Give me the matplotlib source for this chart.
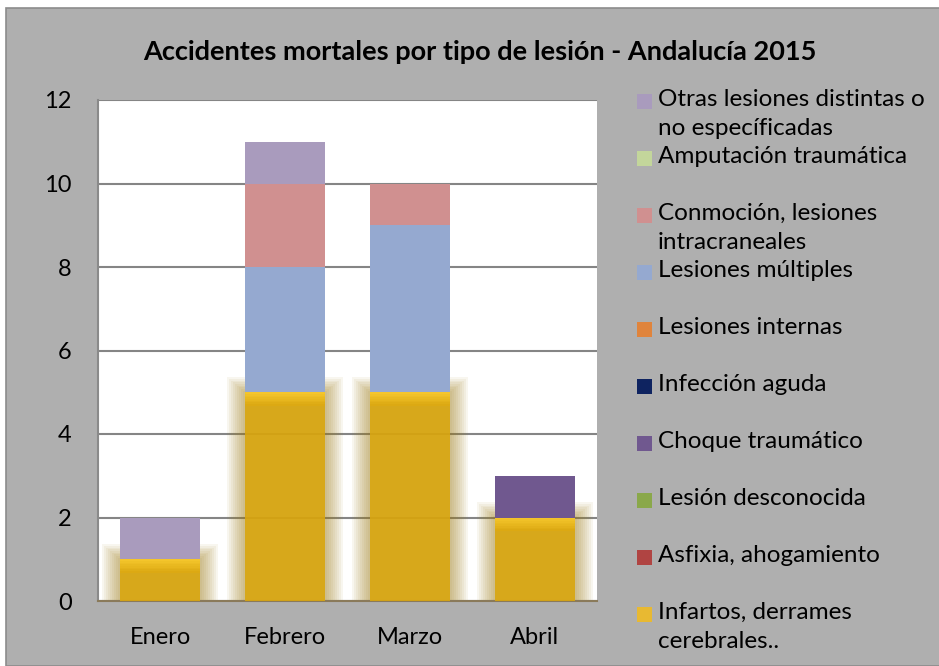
import numpy as np
import matplotlib
matplotlib.use("Agg")
from matplotlib import pyplot as plt
from matplotlib.patches import Rectangle

plt.rcParams['font.family'] = ['Lato', 'DejaVu Sans']

months = ["Enero", "Febrero", "Marzo", "Abril"]

# series from bottom of the stack to the top
series = [
    "Infartos, derrames\ncerebrales..",
    "Asfixia, ahogamiento",
    "Lesión desconocida",
    "Choque traumático",
    "Infección aguda",
    "Lesiones internas",
    "Lesiones múltiples",
    "Conmoción, lesiones\nintracraneales",
    "Amputación traumática",
    "Otras lesiones distintas o\nno específicadas",
]
infartos = [1, 5, 5, 2]
asfixia = [0, 0, 0, 0]
desconocida = [0, 0, 0, 0]
choque = [0, 0, 0, 1]
infeccion = [0, 0, 0, 0]
internas = [0, 0, 0, 0]
multiples = [0, 3, 4, 0]
conmocion = [0, 2, 1, 0]
amputacion = [0, 0, 0, 0]
otras = [1, 1, 0, 0]
values = [infartos, asfixia, desconocida, choque, infeccion,
          internas, multiples, conmocion, amputacion, otras]

colors = ["#d9a60f", "#b04442", "#8aa84a", "#70588f", "#0e2360",
          "#e0843c", "#95a9d0", "#d09090", "#c3d69b", "#a99bbd"]
legend_colors = list(colors)
legend_colors[0] = "#e8b932"

fig = plt.figure(figsize=(9.39, 6.66), dpi=100)
fig.patch.set_facecolor("white")
# gray chart area
fig.patches.append(Rectangle((6 / 939, 0), 1, 1 - 8 / 666, transform=fig.transFigure,
                             facecolor="#afafaf", edgecolor="#8c8c8c", lw=1.2, zorder=-5))

ax = fig.add_axes([98 / 939, 1 - 601 / 666, 499 / 939, 501 / 666])
ax.set_facecolor("white")

x = np.arange(len(months))
w = 0.64

# glow behind the yellow bars
for k in range(1, 10):
    ax.bar(x, np.array(infartos) + 0.04 * k, width=w + 0.032 * k, bottom=0,
           color="#9c7a10", alpha=0.065, lw=0, zorder=1)

bottom = np.zeros(len(months))
for i, vals in enumerate(values):
    vals = np.array(vals, dtype=float)
    a = 0.9 if i == 0 else 1.0
    ax.bar(x, vals, width=w, bottom=bottom, color=colors[i], alpha=a, lw=0, zorder=3)
    if i == 0:
        # lighter top band on the yellow bars
        n = 8
        for j in range(n):
            h = 0.04
            c = np.array(matplotlib.colors.to_rgb("#f6c72c")) * (1 - j / n) + \
                np.array(matplotlib.colors.to_rgb("#d9a60f")) * (j / n)
            ax.bar(x, np.where(vals > 0, h, 0), width=w, bottom=vals - (j + 1) * h,
                   color=c, alpha=0.95, lw=0, zorder=3.5)
    bottom += vals

ax.set_ylim(0, 12)
ax.set_xlim(-0.5, 3.5)
ax.set_yticks(range(0, 13, 2))
ax.set_xticks(x)
ax.set_xticklabels(months)
ax.yaxis.grid(True, color="#858585", lw=1.5, zorder=2)
ax.set_axisbelow(True)
for s in ["top", "right"]:
    ax.spines[s].set_visible(False)
ax.spines["left"].set_color("#8a8a8a")
ax.spines["left"].set_linewidth(1.5)
ax.spines["bottom"].set_color("#8a7a5a")
ax.spines["bottom"].set_linewidth(1.5)
ax.tick_params(length=0, labelsize=17, colors="black")
ax.tick_params(axis="y", pad=19)
ax.tick_params(axis="x", pad=19)

fig.text(480 / 939, 1 - 52 / 666, "Accidentes mortales por tipo de lesión - Andalucía 2015",
         ha="center", va="center", fontsize=19.5, fontweight="bold")

# legend drawn by hand, top entry first
for k, i in enumerate(range(len(series) - 1, -1, -1)):
    yc = 101 + 57 * k
    fig.patches.append(Rectangle((637 / 939, 1 - (yc + 7.5) / 666), 15 / 939, 15 / 666,
                                 transform=fig.transFigure, facecolor=legend_colors[i],
                                 lw=0, zorder=2))
    fig.text(658 / 939, 1 - (yc - 12) / 666, series[i], ha="left", va="top",
             fontsize=17.5, linespacing=1.45)

fig.savefig("out.png", dpi=100, facecolor=fig.get_facecolor())
